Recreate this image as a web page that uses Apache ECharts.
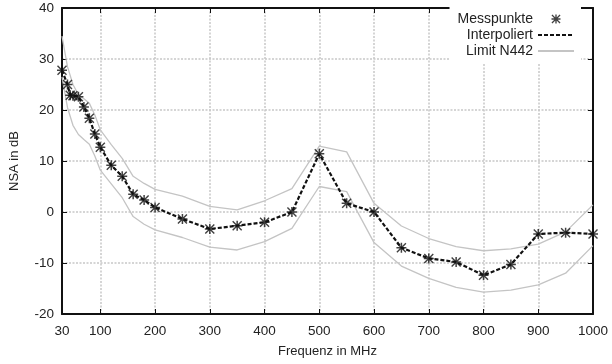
<!DOCTYPE html>
<html>
<head>
<meta charset="utf-8">
<script src="https://cdn.jsdelivr.net/npm/echarts@6/dist/echarts.min.js"></script>
<style>html,body{margin:0;padding:0;background:#fff}#c{width:612px;height:364px}</style>
</head>
<body>
<div id="c"></div>
<script>
// ---- data ----
var xTicks = [30, 100, 200, 300, 400, 500, 600, 700, 800, 900, 1000];
var measFreq = [30, 40, 45, 50, 60, 70, 80, 90, 100, 120, 140, 160, 180, 200, 250, 300, 350, 400, 450, 500, 550, 600, 650, 700, 750, 800, 850, 900, 950, 1000];
var measNSA  = [27.8, 25.0, 22.9, 22.8, 22.6, 20.6, 18.4, 15.3, 12.7, 9.15, 7.0, 3.47, 2.35, 0.9, -1.37, -3.33, -2.68, -2.03, 0.0, 11.4, 1.7, 0.0, -7.0, -9.1, -9.8, -12.4, -10.3, -4.3, -4.05, -4.3];
var limFreq  = [30, 40, 50, 60, 70, 80, 90, 100, 120, 140, 160, 180, 200, 250, 300, 350, 400, 450, 500, 550, 600, 650, 700, 750, 800, 850, 900, 950, 1000];
var limUpper = [34.5, 28.5, 25.0, 23.0, 22.2, 21.3, 19.0, 16.1, 13.2, 10.5, 7.0, 5.6, 4.45, 3.1, 1.1, 0.4, 2.2, 4.6, 12.9, 11.8, 1.7, -2.75, -5.2, -6.8, -7.6, -7.25, -6.3, -3.9, 1.4];
var limLower = [26.5, 20.5, 17.0, 15.2, 14.2, 13.3, 11.0, 8.2, 5.5, 2.8, -0.9, -2.4, -3.5, -5.0, -6.9, -7.45, -5.8, -3.2, 5.0, 4.0, -6.0, -10.6, -13.0, -14.8, -15.7, -15.3, -14.3, -12.0, -6.6];

function pairs(xs, ys) { return xs.map(function (x, i) { return [x, ys[i]]; }); }

var star = 'path://M8.5,0 L11.5,0 L11.5,20 L8.5,20 Z M0,8.5 L20,8.5 L20,11.5 L0,11.5 Z M2,0 L20,18 L18,20 L0,2 Z M18,0 L20,2 L2,20 L0,18 Z';
var FONT = 'Liberation Sans';
var TXT = '#222';

var chart = echarts.init(document.getElementById('c'), null, {renderer: 'canvas'});
chart.setOption({
  animation: false,
  backgroundColor: '#fff',
  textStyle: {fontFamily: FONT},
  grid: {left: 59, right: 19, top: 8, bottom: 50, containLabel: false},
  legend: {
    orient: 'vertical',
    right: 31, top: 6,
    align: 'right',
    backgroundColor: '#fff',
    padding: [6, 6, 6, 8],
    itemWidth: 36, itemHeight: 9, itemGap: 2,
    textStyle: {fontFamily: FONT, fontSize: 14, color: TXT, lineHeight: 13.5},
    data: [
      'Messpunkte',
      {name: 'Interpoliert', itemStyle: {opacity: 0}},
      {name: 'Limit N442', itemStyle: {opacity: 0}}
    ]
  },
  xAxis: [{
    type: 'value', min: 30, max: 1000, position: 'bottom',
    name: 'Frequenz in MHz', nameLocation: 'middle', nameGap: 31,
    nameTextStyle: {fontFamily: FONT, fontSize: 13, color: TXT},
    axisLine: {show: true, onZero: false, lineStyle: {color: '#111', width: 2}},
    axisTick: {show: true, inside: true, length: 5, customValues: xTicks, lineStyle: {color: '#111', width: 1}},
    axisLabel: {customValues: xTicks, fontFamily: FONT, fontSize: 13.5, color: TXT, margin: 10,
      formatter: function (v) { return String(v); }},
    splitLine: {show: true, lineStyle: {color: '#c8c8c8', width: 1.5, type: [2, 1.5]}}
  }, {
    type: 'value', min: 30, max: 1000, position: 'top',
    axisLine: {show: true, onZero: false, lineStyle: {color: '#111', width: 2}},
    axisTick: {show: true, inside: true, length: 5, customValues: xTicks, lineStyle: {color: '#111', width: 1}},
    axisLabel: {show: false},
    splitLine: {show: false}
  }],
  yAxis: [{
    type: 'value', min: -20, max: 40, interval: 10, position: 'left',
    name: 'NSA in dB', nameLocation: 'middle', nameGap: 41, nameRotate: 90,
    nameTextStyle: {fontFamily: FONT, fontSize: 13, color: TXT},
    axisLine: {show: true, onZero: false, lineStyle: {color: '#111', width: 2}},
    axisTick: {show: true, inside: true, length: 5, lineStyle: {color: '#111', width: 1}},
    axisLabel: {fontFamily: FONT, fontSize: 13.5, color: TXT, margin: 8},
    splitLine: {show: true, lineStyle: {color: '#c8c8c8', width: 1.5, type: [2, 1.5]}}
  }, {
    type: 'value', min: -20, max: 40, interval: 10, position: 'right',
    axisLine: {show: true, onZero: false, lineStyle: {color: '#111', width: 2}},
    axisTick: {show: true, inside: true, length: 5, lineStyle: {color: '#111', width: 1}},
    axisLabel: {show: false},
    splitLine: {show: false}
  }],
  series: [{
    name: 'Limit N442', type: 'line', data: pairs(limFreq, limUpper),
    symbol: 'none', lineStyle: {color: '#c4c4c4', width: 1.3}, itemStyle: {color: '#c4c4c4'}, z: 2
  }, {
    name: 'Limit N442', type: 'line', data: pairs(limFreq, limLower),
    symbol: 'none', lineStyle: {color: '#c4c4c4', width: 1.3}, itemStyle: {color: '#c4c4c4'}, z: 2
  }, {
    name: 'Interpoliert', type: 'line', data: pairs(measFreq, measNSA),
    symbol: 'none', lineStyle: {color: '#111', width: 2.2, type: [4, 2]}, itemStyle: {color: '#111'}, z: 3
  }, {
    name: 'Messpunkte', type: 'scatter', data: pairs(measFreq, measNSA),
    symbol: star, symbolSize: 10, itemStyle: {color: '#111'}, z: 4
  }]
});
</script>
</body>
</html>
